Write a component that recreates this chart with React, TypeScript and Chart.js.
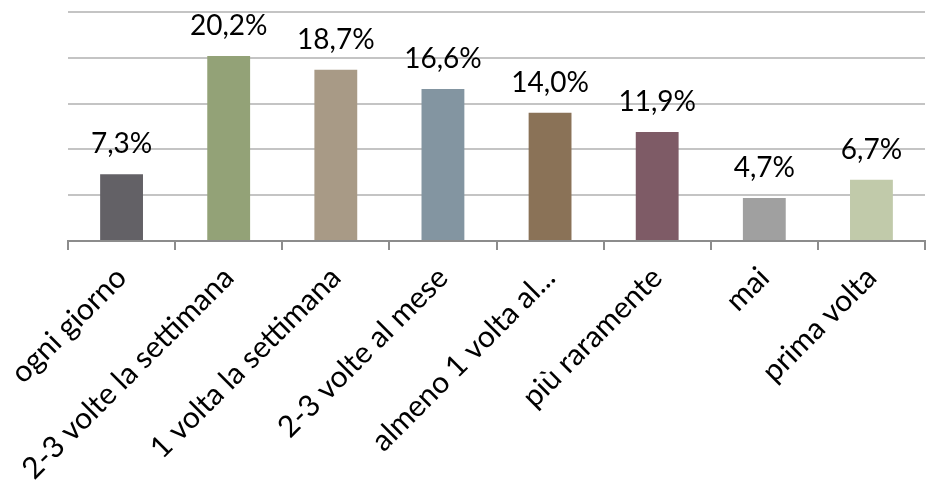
import React, { useEffect, useRef } from "react";
import { Chart, registerables } from "chart.js";

Chart.register(...registerables);

const categories = [
  "ogni giorno",
  "2-3 volte la settimana",
  "1 volta la settimana",
  "2-3 volte al mese",
  "almeno 1 volta al...",
  "più raramente",
  "mai",
  "prima volta",
];
const values = [7.3, 20.2, 18.7, 16.6, 14.0, 11.9, 4.7, 6.7];
const barColors = [
  "#636166",
  "#93a277",
  "#a89a86",
  "#8395a1",
  "#8a7257",
  "#7e5b66",
  "#a0a0a0",
  "#c1caaa",
];
const yTicks = [0, 5, 10, 15, 20, 25];

const FONT = "Lato, 'Open Sans', sans-serif";

const valueLabels = {
  id: "valueLabels",
  afterDatasetsDraw(chart: any) {
    const ctx = chart.ctx;
    const meta = chart.getDatasetMeta(0);
    ctx.save();
    ctx.font = `28px ${FONT}`;
    ctx.fillStyle = "#000";
    ctx.textAlign = "center";
    ctx.textBaseline = "alphabetic";
    meta.data.forEach((bar: any, i: number) => {
      const txt = values[i].toFixed(1).replace(".", ",") + "%";
      ctx.fillText(txt, bar.x, bar.y - 21);
    });
    ctx.restore();
  },
};

export default function App() {
  const ref = useRef<HTMLCanvasElement>(null);
  useEffect(() => {
    document.body.style.margin = "0";
    const chart = new Chart(ref.current!, {
      type: "bar",
      data: {
        labels: categories,
        datasets: [
          {
            data: values,
            backgroundColor: barColors,
            barPercentage: 0.4,
            categoryPercentage: 1,
          },
        ],
      },
      options: {
        animation: false,
        responsive: false,
        maintainAspectRatio: false,
        layout: { padding: { left: 68, right: 5, top: 12, bottom: 0 } },
        plugins: { legend: { display: false }, tooltip: { enabled: false } },
        scales: {
          y: {
            min: 0,
            max: 25,
            afterBuildTicks: (s: any) => {
              s.ticks = yTicks.map((v) => ({ value: v }));
            },
            afterFit: (s: any) => {
              s.width = 0;
            },
            ticks: { display: false },
            border: { display: false },
            grid: { color: "#c4c4c4", lineWidth: 2, drawTicks: false },
          },
          x: {
            afterFit: (s: any) => {
              s.height = 239;
            },
            border: { display: true, color: "#8c8c8c", width: 2 },
            grid: {
              drawOnChartArea: false,
              drawTicks: true,
              tickLength: 9,
              color: "#8c8c8c",
              lineWidth: 2,
              offset: true,
            },
            ticks: {
              minRotation: 45,
              maxRotation: 45,
              autoSkip: false,
              padding: 10,
              color: "#000",
              font: { family: FONT, size: 30 },
            },
          },
        },
      },
      plugins: [valueLabels],
    });
    return () => chart.destroy();
  }, []);
  return (
    <div style={{ width: 930, height: 480 }}>
      <canvas ref={ref} width={930} height={480} />
    </div>
  );
}
